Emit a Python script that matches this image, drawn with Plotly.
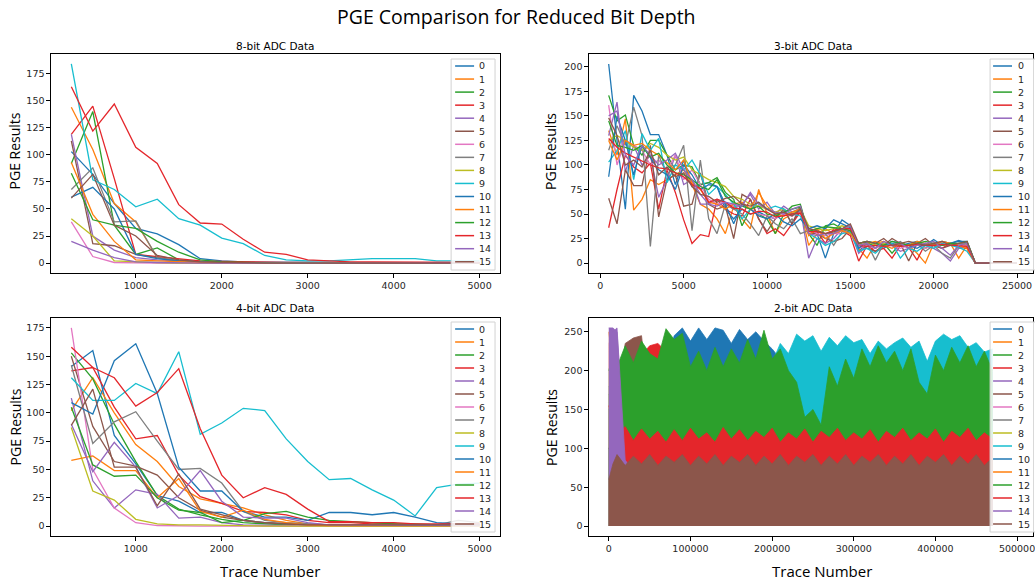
import plotly.graph_objects as go

W, H = 1035, 583

SERIES = ["0", "1", "2", "3", "4", "5", "6", "7", "8", "9", "10", "11", "12", "13", "14", "15"]
COLORS = ["#1f77b4", "#ff7f0e", "#2ca02c", "#e4262b", "#9467bd", "#8c564b", "#e377c2", "#7f7f7f",
          "#bcbd22", "#17becf", "#1f77b4", "#ff7f0e", "#2ca02c", "#e4262b", "#9467bd", "#8c564b"]

# ---------------- 8-bit ADC data (x = 250 .. 5000) ----------------
X_8BIT = list(range(250, 5001, 250))
BIT8 = [
    [103, 82, 55, 32, 27, 17, 4, 2, 1, 1, 1, 0.5, 0.5, 0, 0, 0, 0, 0, 0, 0],
    [144, 105, 55, 38, 5, 2, 1, 0.5, 0, 0, 0, 0, 0, 0, 0, 0, 0, 0, 0, 0],
    [92, 140, 35, 8, 14, 3, 1, 0.5, 0, 0, 0, 0, 0, 0, 0, 0, 0, 0, 0, 0],
    [119, 145, 78, 8, 6, 4, 2, 1.5, 1, 1, 0.5, 0.5, 0.5, 0, 0, 0, 0, 0, 0, 0],
    [119, 25, 12, 5, 3, 2, 1, 0, 0, 0, 0, 0, 0, 0, 0, 0, 0, 0, 0, 0],
    [113, 18, 16, 8, 5, 2, 1, 0, 0, 0, 0, 0, 0, 0, 0, 0, 0, 0, 0, 0],
    [38, 6, 0.5, 0, 0, 0, 0, 0, 0, 0, 0, 0, 0, 0, 0, 0, 0, 0, 0, 0],
    [68, 88, 38, 39, 5, 2, 1, 0, 0, 0, 0, 0, 0, 0, 0, 0, 0, 0, 0, 0],
    [41, 25, 2, 1, 0.5, 0, 0, 0, 0, 0, 0, 0, 0, 0, 0, 0, 0, 0, 0, 0],
    [184, 77, 68, 52, 59, 41, 35, 23, 18, 7, 3, 2, 2, 3, 4, 4, 4, 2, 2, 2],
    [61, 70, 50, 8, 4, 2, 1, 0, 0, 0, 0, 0, 0, 0, 0, 0, 0, 0, 0, 0],
    [93, 45, 20, 3, 2, 1, 0.5, 0, 0, 0, 0, 0, 0, 0, 0, 0, 0, 0, 0, 0],
    [83, 40, 35, 32, 20, 10, 3, 1, 0.5, 0, 0, 0, 0, 0, 0, 0, 0, 0, 0, 0],
    [163, 122, 147, 107, 92, 54, 37, 36, 22, 10, 8, 3, 2, 1, 1, 1, 0.5, 0.5, 0.5, 0.5],
    [20, 12, 5, 1, 0.5, 0, 0, 0, 0, 0, 0, 0, 0, 0, 0, 0, 0, 0, 0, 0],
    [60, 82, 35, 25, 7, 3, 1, 0.5, 0, 0, 0, 0, 0, 0, 0, 0, 0, 0, 0, 0],
]

# ---------------- 4-bit ADC data (x = 250 .. 5000) ----------------
X_4BIT = list(range(250, 5001, 250))
BIT4 = [
    [141, 155, 80, 55, 27, 22, 12, 12, 5, 3, 2, 1, 1, 1, 0.5, 0.5, 0.5, 0.5, 0.5, 0.5],
    [102, 131, 100, 72, 57, 35, 24, 20, 16, 10, 5, 2, 1, 1, 0.5, 0.5, 0.5, 0.5, 0.5, 0.5],
    [153, 130, 90, 57, 27, 15, 10, 6, 3, 2, 1, 1, 0.5, 0.5, 0.5, 0.5, 0.5, 0.5, 0.5, 0.5],
    [137, 140, 105, 77, 80, 45, 26, 20, 13, 12, 10, 5, 3, 3, 2, 2, 1, 1, 1, 1],
    [113, 40, 16, 32, 28, 7, 8, 3, 1, 0.5, 0.5, 0.5, 0.5, 0.5, 0.5, 0.5, 0.5, 0.5, 0.5, 0.5],
    [150, 88, 57, 53, 45, 25, 14, 8, 5, 3, 2, 1, 1, 1, 1, 1, 1, 1, 1, 1],
    [175, 50, 16, 3, 0.5, 0, 0, 0, 0, 0, 0, 0, 0, 0, 0, 0, 0, 0, 0, 0],
    [142, 73, 92, 101, 75, 50, 51, 38, 13, 5, 3, 2, 1, 1, 1, 1, 1, 1, 5, 3],
    [87, 31, 23, 6, 2, 1, 1, 0.5, 0, 0, 0, 0, 0, 0, 0, 0, 0, 0, 0, 0],
    [131, 111, 111, 126, 117, 154, 81, 91, 104, 102, 77, 57, 41, 42, 32, 23, 9, 34, 37, 38],
    [109, 99, 146, 161, 117, 52, 31, 31, 13, 8, 8, 5, 12, 12, 10, 12, 8, 3, 2, 2],
    [58, 62, 49, 49, 25, 42, 13, 8, 14, 6, 3, 1, 0.5, 0.5, 0.5, 0.5, 0.5, 0.5, 0.5, 0.5],
    [105, 54, 44, 45, 25, 14, 12, 3, 5, 11, 13, 8, 5, 4, 3, 2, 2, 1, 1, 1],
    [158, 140, 131, 106, 118, 139, 86, 45, 25, 34, 28, 15, 4, 4, 3, 3, 2, 2, 2, 2],
    [90, 48, 74, 52, 16, 27, 49, 22, 8, 7, 7, 3, 1, 1, 0.5, 0.5, 0.5, 0.5, 0.5, 0.5],
    [89, 121, 52, 52, 18, 46, 15, 10, 5, 3, 2, 1, 1, 1, 1, 1, 1, 1, 1, 1],
]

# ---------------- 3-bit ADC data (x = 500 .. 25000) ----------------
X_3BIT = list(range(500, 25001, 500))
BIT3 = [
    [203, 125, 55, 171, 155, 131, 131, 110, 80, 105, 78, 80, 82, 78, 55, 45, 55, 50, 52, 48,
     45, 55, 40, 55, 35, 30, 5, 30, 44, 38, 12, 20, 18, 15, 20, 18, 20, 22, 18, 24,
     18, 20, 22, 22, 0, 0, 0, 0, 0, 0],
    [135, 110, 147, 54, 65, 85, 80, 85, 90, 95, 80, 60, 55, 45, 30, 58, 45, 35, 75, 50,
     30, 45, 50, 55, 18, 30, 35, 30, 35, 38, 15, 5, 20, 22, 18, 20, 18, 10, 0, 20,
     22, 20, 5, 18, 0, 0, 0, 0, 0, 0],
    [171, 145, 151, 120, 110, 125, 125, 110, 95, 100, 98, 80, 82, 87, 72, 65, 38, 55, 50, 45,
     30, 50, 58, 60, 30, 18, 38, 40, 35, 30, 20, 22, 15, 20, 10, 20, 18, 22, 15, 20,
     18, 20, 15, 16, 0, 0, 0, 0, 0, 0],
    [36, 75, 110, 98, 92, 102, 55, 95, 72, 44, 20, 29, 27, 65, 55, 50, 48, 65, 45, 30,
     35, 28, 40, 52, 30, 32, 20, 35, 33, 28, 2, 18, 12, 15, 5, 18, 16, 3, 20, 18,
     15, 20, 17, 15, 0, 0, 0, 0, 0, 0],
    [130, 164, 93, 120, 100, 110, 67, 85, 110, 80, 85, 60, 60, 65, 60, 55, 60, 70, 55, 62,
     50, 58, 52, 56, 5, 25, 20, 25, 35, 32, 10, 18, 15, 20, 18, 12, 15, 20, 18, 15,
     10, 2, 15, 18, 0, 0, 0, 0, 0, 0],
    [66, 40, 95, 79, 79, 120, 47, 85, 90, 58, 60, 92, 60, 55, 58, 25, 70, 65, 45, 32,
     45, 55, 40, 58, 30, 30, 25, 22, 25, 35, 18, 15, 12, 18, 25, 20, 2, 20, 25, 18,
     15, 18, 20, 20, 0, 0, 0, 0, 0, 0],
    [161, 100, 125, 120, 115, 100, 105, 95, 110, 85, 95, 80, 65, 60, 62, 58, 60, 55, 50, 48,
     45, 50, 48, 52, 35, 30, 28, 30, 30, 35, 15, 18, 15, 20, 18, 15, 18, 20, 15, 18,
     20, 18, 20, 18, 0, 0, 0, 0, 0, 0],
    [115, 140, 120, 159, 130, 17, 110, 90, 100, 120, 33, 105, 45, 30, 60, 55, 50, 40, 28, 48,
     40, 35, 45, 30, 33, 32, 30, 18, 32, 36, 18, 20, 3, 20, 18, 22, 15, 20, 12, 18,
     10, 5, 18, 20, 0, 0, 0, 0, 0, 0],
    [125, 130, 125, 118, 115, 122, 118, 110, 105, 108, 95, 90, 85, 82, 78, 68, 65, 60, 58, 55,
     52, 55, 50, 55, 38, 35, 33, 35, 38, 35, 20, 22, 18, 20, 18, 20, 18, 20, 18, 20,
     18, 20, 18, 20, 0, 0, 0, 0, 0, 0],
    [103, 115, 135, 85, 132, 115, 127, 82, 100, 95, 105, 90, 70, 78, 70, 60, 45, 55, 62, 55,
     58, 55, 50, 48, 30, 25, 18, 22, 30, 32, 12, 15, 10, 18, 20, 5, 15, 12, 18, 15,
     20, 18, 16, 12, 0, 0, 0, 0, 0, 0],
    [88, 150, 125, 90, 120, 108, 95, 90, 75, 100, 90, 75, 80, 78, 60, 40, 60, 55, 48, 45,
     50, 42, 38, 45, 35, 38, 35, 44, 40, 36, 15, 22, 20, 18, 22, 20, 18, 15, 20, 18,
     22, 20, 23, 20, 0, 0, 0, 0, 0, 0],
    [125, 105, 125, 120, 122, 115, 110, 102, 95, 105, 82, 75, 62, 60, 55, 60, 62, 55, 72, 58,
     50, 48, 52, 55, 28, 35, 25, 30, 33, 30, 18, 20, 22, 18, 15, 20, 18, 22, 20, 18,
     22, 20, 18, 15, 0, 0, 0, 0, 0, 0],
    [145, 120, 118, 115, 120, 108, 112, 100, 92, 90, 85, 78, 75, 85, 68, 62, 58, 55, 58, 50,
     48, 52, 55, 57, 32, 35, 37, 36, 35, 33, 20, 22, 20, 18, 22, 20, 18, 20, 22, 20,
     18, 20, 20, 22, 0, 0, 0, 0, 0, 0],
    [127, 118, 112, 108, 104, 100, 97, 96, 92, 88, 80, 76, 62, 65, 62, 56, 55, 50, 53, 52,
     47, 48, 50, 51, 32, 32, 30, 33, 35, 35, 18, 17, 18, 17, 18, 17, 18, 19, 18, 18,
     19, 18, 18, 17, 0, 0, 0, 0, 0, 0],
    [150, 155, 110, 100, 120, 110, 100, 105, 112, 95, 85, 70, 60, 58, 62, 60, 58, 72, 60, 55,
     52, 50, 55, 58, 30, 28, 30, 30, 35, 38, 18, 20, 15, 22, 18, 20, 15, 18, 20, 22,
     15, 8, 18, 20, 0, 0, 0, 0, 0, 0],
    [148, 130, 100, 105, 98, 115, 90, 98, 88, 92, 78, 70, 68, 62, 66, 68, 60, 58, 62, 55,
     50, 52, 48, 55, 35, 33, 30, 32, 35, 40, 20, 22, 20, 25, 18, 20, 22, 20, 18, 20,
     22, 18, 20, 22, 0, 0, 0, 0, 0, 0],
]

# ---------------- 2-bit ADC data: upper envelope of each dense trace ----------------
X_2BIT = [0, 5000] + list(range(10000, 470001, 10000))
BIT2 = [
    [180, 185, 190, 190, 185, 190, 195, 190, 200, 245, 255, 238, 255, 240, 255, 252, 235, 253, 240, 250,
     238, 228, 215, 205, 200, 198, 202, 200, 198, 200, 202, 200, 198, 200, 202, 200, 198, 200, 202, 200,
     198, 200, 202, 200, 198, 200, 202, 200, 198],
    [250, 200, 60, 55, 50, 52, 48, 50, 55, 50, 48, 52, 50, 55, 50, 48, 52, 50, 55, 50,
     48, 52, 50, 55, 50, 48, 52, 50, 55, 50, 48, 52, 50, 55, 50, 48, 52, 50, 55, 50,
     48, 52, 50, 55, 50, 48, 52, 50, 55],
    [170, 175, 180, 185, 180, 182, 178, 180, 185, 182, 180, 178, 182, 180, 178, 182, 180, 185, 182, 180,
     178, 182, 180, 175, 150, 125, 120, 140, 170, 175, 180, 170, 185, 190, 185, 188, 182, 185, 170, 160,
     172, 180, 185, 188, 190, 185, 182, 180, 175],
    [235, 230, 150, 180, 200, 220, 232, 235, 225, 110, 105, 100, 104, 98, 102, 100, 104, 98, 102, 100,
     104, 98, 102, 100, 104, 98, 102, 100, 104, 98, 102, 100, 104, 98, 102, 100, 104, 98, 102, 100,
     104, 98, 102, 100, 104, 98, 102, 100, 104],
    [255, 255, 250, 90, 85, 88, 84, 86, 88, 85, 84, 86, 88, 85, 84, 86, 88, 85, 84, 86,
     88, 85, 84, 86, 88, 85, 84, 86, 88, 85, 84, 86, 88, 85, 84, 86, 88, 85, 84, 86,
     88, 85, 84, 86, 88, 85, 84, 86, 88],
    [100, 110, 150, 235, 242, 245, 150, 90, 88, 85, 84, 86, 88, 85, 84, 86, 88, 85, 84, 86,
     88, 85, 84, 86, 88, 85, 84, 86, 88, 85, 84, 86, 88, 85, 84, 86, 88, 85, 84, 86,
     88, 85, 84, 86, 88, 85, 84, 86, 88],
    [60, 62, 58, 60, 62, 58, 60, 62, 58, 60, 62, 58, 60, 62, 58, 60, 62, 58, 60, 62,
     58, 60, 62, 58, 60, 62, 58, 60, 62, 58, 60, 62, 58, 60, 62, 58, 60, 62, 58, 60,
     62, 58, 60, 62, 58, 60, 62, 58, 60],
    [62, 58, 60, 62, 58, 60, 62, 58, 60, 62, 58, 60, 62, 58, 60, 62, 58, 60, 62, 58,
     60, 62, 58, 60, 62, 58, 60, 62, 58, 60, 62, 58, 60, 62, 58, 60, 62, 58, 60, 62,
     58, 60, 62, 58, 60, 62, 58, 60, 62],
    [58, 60, 62, 58, 60, 62, 58, 60, 62, 58, 60, 62, 58, 60, 62, 58, 60, 62, 58, 60,
     62, 58, 60, 62, 58, 60, 62, 58, 60, 62, 58, 60, 62, 58, 60, 62, 58, 60, 62, 58,
     60, 62, 58, 60, 62, 58, 60, 62, 58],
    [150, 150, 150, 150, 150, 150, 150, 150, 150, 150, 150, 150, 150, 150, 150, 150, 150, 150, 150, 150,
     150, 210, 235, 222, 247, 238, 245, 225, 243, 232, 245, 236, 240, 222, 238, 228, 236, 242, 230, 238,
     212, 238, 247, 240, 245, 230, 236, 224, 228],
    [100, 102, 98, 100, 102, 98, 100, 102, 98, 100, 102, 98, 100, 102, 98, 100, 102, 98, 100, 102,
     98, 100, 102, 98, 100, 102, 98, 100, 102, 98, 100, 102, 98, 100, 102, 98, 100, 102, 98, 100,
     102, 98, 100, 102, 98, 100, 102, 98, 100],
    [60, 58, 62, 60, 58, 62, 60, 58, 62, 60, 58, 62, 60, 58, 62, 60, 58, 62, 60, 58,
     62, 60, 58, 62, 60, 58, 62, 60, 58, 62, 60, 58, 62, 60, 58, 62, 60, 58, 62, 60,
     58, 62, 60, 58, 62, 60, 58, 62, 60],
    [200, 225, 205, 232, 210, 238, 222, 215, 254, 240, 248, 205, 225, 200, 230, 205, 228, 210, 240, 215,
     252, 215, 228, 200, 185, 140, 150, 130, 205, 180, 215, 190, 228, 205, 232, 210, 225, 200, 228, 185,
     170, 220, 200, 230, 210, 232, 205, 225, 200],
    [155, 140, 118, 128, 110, 125, 112, 122, 108, 124, 110, 126, 112, 120, 108, 127, 112, 124, 110, 122,
     114, 126, 108, 120, 112, 125, 108, 122, 114, 126, 110, 120, 112, 124, 108, 122, 114, 126, 110, 120,
     112, 125, 108, 122, 114, 126, 110, 120, 112],
    [255, 250, 255, 85, 70, 72, 68, 70, 72, 68, 70, 72, 68, 70, 72, 68, 70, 72, 68, 70,
     72, 68, 70, 72, 68, 70, 72, 68, 70, 72, 68, 70, 72, 68, 70, 72, 68, 70, 72, 68,
     70, 72, 68, 70, 72, 68, 70, 72, 68],
    [60, 80, 92, 78, 90, 80, 92, 78, 90, 82, 92, 78, 90, 80, 92, 78, 90, 82, 92, 78,
     90, 80, 92, 78, 90, 82, 92, 78, 90, 80, 92, 78, 90, 82, 92, 78, 90, 80, 92, 78,
     90, 82, 92, 78, 90, 80, 92, 78, 88],
]

for arr in BIT8 + BIT4:
    assert len(arr) == len(X_8BIT)
for arr in BIT3:
    assert len(arr) == len(X_3BIT)
for arr in BIT2:
    assert len(arr) == len(X_2BIT), len(arr)


def px(x):
    return x / W


def py(y):
    return 1 - y / H


fig = go.Figure()

# line panels
for data, xs, xa, ya in [(BIT8, X_8BIT, "x", "y"), (BIT3, X_3BIT, "x2", "y2"), (BIT4, X_4BIT, "x3", "y3")]:
    for i, ys in enumerate(data):
        fig.add_trace(go.Scatter(x=xs, y=ys, mode="lines", name=SERIES[i],
                                 line=dict(color=COLORS[i], width=1.3),
                                 xaxis=xa, yaxis=ya, showlegend=False))

# dense 2-bit panel drawn as filled envelopes
for i, ys in enumerate(BIT2):
    fig.add_trace(go.Scatter(x=X_2BIT, y=ys, mode="lines", name=SERIES[i], fill="tozeroy",
                             fillcolor=COLORS[i], line=dict(color=COLORS[i], width=0.8),
                             xaxis="x4", yaxis="y4", showlegend=False))

TICKFONT = dict(family="DejaVu Sans", size=9.5, color="#262626")


def axis(domain, rng, tickvals, anchor):
    return dict(domain=domain, range=rng, tickvals=tickvals, tickformat="d", anchor=anchor,
                showline=True, linecolor="#000", linewidth=1, mirror=True,
                ticks="outside", ticklen=3.5, tickwidth=0.8, tickcolor="#000",
                showgrid=False, zeroline=False, tickfont=TICKFONT, ticklabeloverflow="allow")


XL = [px(51), px(501)]
XR = [px(590), 1.0]
YT = [py(273), py(54)]
YB = [py(536), py(318)]

fig.update_layout(
    width=W, height=H, autosize=False,
    margin=dict(l=0, r=0, t=0, b=0),
    paper_bgcolor="white", plot_bgcolor="white",
    xaxis=axis(XL, [12.5, 5237.5], [1000, 2000, 3000, 4000, 5000], "y"),
    yaxis=axis(YT, [-9.2, 193.2], [0, 25, 50, 75, 100, 125, 150, 175], "x"),
    xaxis2=axis(XR, [-689, 25958], [0, 5000, 10000, 15000, 20000, 25000], "y2"),
    yaxis2=axis(YT, [-10.15, 213.15], [0, 25, 50, 75, 100, 125, 150, 175, 200], "x2"),
    xaxis3=axis(XL, [12.5, 5237.5], [1000, 2000, 3000, 4000, 5000], "y3"),
    yaxis3=axis(YB, [-8.75, 183.75], [0, 25, 50, 75, 100, 125, 150, 175], "x3"),
    xaxis4=axis(XR, [-24500, 519560], [0, 100000, 200000, 300000, 400000, 500000], "y4"),
    yaxis4=axis(YB, [-12.75, 267.75], [0, 50, 100, 150, 200, 250], "x4"),
    showlegend=False,
)

annotations = []
shapes = []


def text(x, y, s, size, family, angle=0, xanchor="center", color="#000"):
    annotations.append(dict(x=px(x), y=py(y), xref="paper", yref="paper", text=s, showarrow=False,
                            xanchor=xanchor, yanchor="middle", textangle=angle,
                            font=dict(family=family, size=size, color=color)))


text(517, 17, "PGE Comparison for Reduced Bit Depth", 19.5, "Open Sans")
text(276, 46, "8-bit ADC Data", 10.5, "DejaVu Sans")
text(815, 46, "3-bit ADC Data", 10.5, "DejaVu Sans")
text(276, 308, "4-bit ADC Data", 10.5, "DejaVu Sans")
text(815, 308, "2-bit ADC Data", 10.5, "DejaVu Sans")
for (lx, ly) in [(15.5, 151), (552, 151), (15.5, 427), (552, 427)]:
    text(lx, ly, "PGE Results", 14, "Open Sans", angle=-90)
text(271, 571, "Trace Number", 15, "Open Sans")
text(824, 571, "Trace Number", 15, "Open Sans")


def legend(box, line_x0, line_x1, text_x, first_y, step):
    bx0, by0, bx1, by1 = box
    shapes.append(dict(type="rect", xref="paper", yref="paper", x0=px(bx0), x1=px(bx1),
                       y0=py(by1), y1=py(by0), line=dict(color="#d2d2d2", width=1),
                       fillcolor="rgba(255,255,255,0.85)", layer="above"))
    for i, name in enumerate(SERIES):
        yy = first_y + i * step
        shapes.append(dict(type="line", xref="paper", yref="paper", x0=px(line_x0), x1=px(line_x1),
                           y0=py(yy), y1=py(yy), line=dict(color=COLORS[i], width=1.5), layer="above"))
        text(text_x, yy, name, 9.5, "DejaVu Sans", xanchor="left", color="#262626")


legend((452, 59, 496, 270), 456, 475, 478, 66, 13.05)
legend((992, 59, 1045, 270), 995, 1014, 1018, 66, 13.05)
legend((452, 322, 496, 532), 456, 475, 478, 329, 13.0)
legend((992, 322, 1045, 532), 995, 1014, 1018, 329, 13.0)

fig.update_layout(annotations=annotations, shapes=shapes)
fig.write_html("out.html", config={"displayModeBar": False},
               post_script="document.body.style.margin='0px';document.body.style.overflow='hidden';")
